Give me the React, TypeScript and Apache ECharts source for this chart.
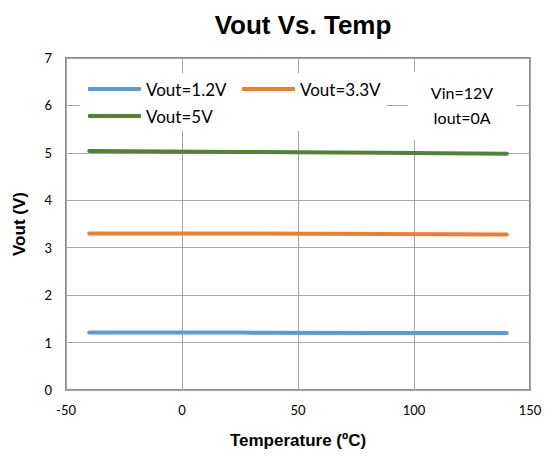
import React, { useEffect, useRef } from "react";
import * as echarts from "echarts";

const temps = [-40, 25, 85, 140];
const vout12 = [1.21, 1.21, 1.2, 1.2];
const vout33 = [3.3, 3.3, 3.29, 3.28];
const vout5 = [5.04, 5.02, 5.0, 4.98];
const seriesNames = ["Vout=1.2V", "Vout=3.3V", "Vout=5V"];
const seriesColors = ["#5b9bd5", "#ed7d31", "#548235"];
const xTicks = { min: -50, max: 150, interval: 50 };
const yTicks = { min: 0, max: 7, interval: 1 };

const pairs = (ys: number[]) => temps.map((t, i) => [t, ys[i]]);

export default function App() {
  const ref = useRef<HTMLDivElement>(null);
  useEffect(() => {
    if (!ref.current) return;
    const chart = echarts.init(ref.current, null, { renderer: "svg" });
    const tickFont = "Lato, sans-serif";
    const boldFont = "'Liberation Sans Narrow', 'Liberation Sans', Arial, sans-serif";
    chart.setOption({
      animation: false,
      backgroundColor: "#ffffff",
      title: {
        text: "Vout Vs. Temp",
        left: 298,
        top: 7,
        textAlign: "center",
        textStyle: { fontFamily: boldFont, fontWeight: "bold", fontSize: 26, color: "#000" },
      },
      graphic: [
        {
          type: "rect",
          shape: { x: 80, y: 73, width: 307, height: 58 },
          style: { fill: "#ffffff" },
          z: 5,
        },
        {
          type: "rect",
          shape: { x: 408, y: 72, width: 108, height: 68 },
          style: { fill: "#ffffff" },
          z: 5,
        },
        {
          type: "text",
          x: 462,
          y: 80,
          style: {
            text: "Vin=12V\nIout=0A",
            align: "center",
            fontFamily: tickFont,
            fontSize: 16,
            lineHeight: 25,
            fill: "#000",
          },
          z: 6,
        },
      ],
      legend: {
        left: 88,
        top: 78,
        width: 320,
        padding: 0,
        itemWidth: 53,
        itemHeight: 4,
        itemGap: 5,
        icon: "roundRect",
        textStyle: {
          fontFamily: tickFont,
          fontSize: 17,
          color: "#000",
          width: 91,
          lineHeight: 22,
        },
        data: seriesNames,
        z: 10,
      },
      grid: {
        left: 66,
        right: 22,
        top: 58,
        bottom: 66,
        show: true,
        borderColor: "#8c8c8c",
        borderWidth: 2,
      },
      xAxis: {
        type: "value",
        min: xTicks.min,
        max: xTicks.max,
        interval: xTicks.interval,
        name: "Temperature (ºC)",
        nameLocation: "middle",
        nameGap: 42,
        nameTextStyle: { fontFamily: boldFont, fontWeight: "bold", fontSize: 17, color: "#000" },
        axisLine: { show: false },
        axisTick: { show: false },
        axisLabel: { fontFamily: tickFont, fontSize: 13, color: "#000", margin: 13 },
        splitLine: { show: true, lineStyle: { color: "#a6a6a6", width: 1 } },
      },
      yAxis: {
        type: "value",
        min: yTicks.min,
        max: yTicks.max,
        interval: yTicks.interval,
        name: "Vout (V)",
        nameLocation: "middle",
        nameGap: 38,
        nameTextStyle: { fontFamily: boldFont, fontWeight: "bold", fontSize: 17, color: "#000" },
        axisLine: { show: false },
        axisTick: { show: true, length: 5, lineStyle: { color: "#a6a6a6" } },
        axisLabel: { fontFamily: tickFont, fontSize: 13, color: "#000", margin: 14 },
        splitLine: { show: true, lineStyle: { color: "#a6a6a6", width: 1 } },
      },
      series: [vout12, vout33, vout5].map((ys, i) => ({
        name: seriesNames[i],
        type: "line",
        data: pairs(ys),
        showSymbol: false,
        symbol: "none",
        lineStyle: { color: seriesColors[i], width: 4, cap: "round" },
        itemStyle: { color: seriesColors[i] },
      })),
    });
    return () => chart.dispose();
  }, []);
  return (
    <div
      ref={ref}
      style={{ position: "absolute", left: 0, top: 0, width: 552, height: 456 }}
    />
  );
}
